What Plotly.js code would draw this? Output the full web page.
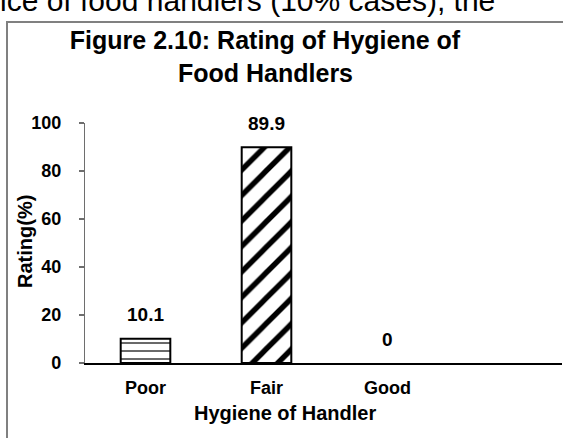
<!DOCTYPE html>
<html>
<head>
<meta charset="utf-8">
<script src="https://cdn.plot.ly/plotly-3.0.1.min.js"></script>
<style>
  html, body { margin: 0; padding: 0; background: #ffffff; }
  #chart { width: 563px; height: 438px; }
</style>
</head>
<body>
<div id="chart"></div>
<script>
// ---- data ----
const categories = ['Poor', 'Fair', 'Good'];
const ratingValues = [10.1, 89.9, 0];
const valueLabels = ['10.1', '89.9', '0'];
const yTickValues = [0, 20, 40, 60, 80, 100];
const yTickLabels = ['0', '20', '40', '60', '80', '100'];
const chartTitleLine1 = 'Figure 2.10: Rating of Hygiene of';
const chartTitleLine2 = 'Food Handlers';
const xAxisTitle = 'Hygiene of Handler';
const yAxisTitle = 'Rating(%)';
const pageTextAbove = 'ice of food handlers (10% cases), the';

// ---- geometry helpers (pixel -> paper) ----
const W = 563, H = 438;
const M = { l: 85, r: 1, t: 123, b: 75 };
const PW = W - M.l - M.r, PH = H - M.t - M.b;
const px = x => (x - M.l) / PW;
const py = y => (H - M.b - y) / PH;

const FONT = 'Liberation Sans, Arial, sans-serif';

const barPatterns = [
  { shape: '-', fgcolor: '#444444', bgcolor: '#ffffff', size: 8, solidity: 0.2 },
  { shape: '/', fgcolor: '#000000', bgcolor: '#ffffff', size: 18, solidity: 0.3 },
  { shape: '', fgcolor: '#000000', bgcolor: '#ffffff', size: 10, solidity: 0.3 }
];

const traces = categories.map((c, i) => ({
  type: 'bar',
  x: [c],
  y: [ratingValues[i]],
  width: 0.41,
  marker: {
    color: '#ffffff',
    line: { color: '#000000', width: ratingValues[i] > 0 ? 2 : 0 },
    pattern: barPatterns[i]
  },
  hoverinfo: 'x+y',
  showlegend: false
}));

const valueAnnotations = categories.map((c, i) => ({
  x: c, y: ratingValues[i], xref: 'x', yref: 'y',
  text: '<b>' + valueLabels[i] + '</b>',
  showarrow: false, yanchor: 'middle', yshift: 24,
  font: { family: FONT, size: 19, color: '#000000' }
}));

const layout = {
  width: W, height: H,
  margin: M,
  paper_bgcolor: '#ffffff',
  plot_bgcolor: 'rgba(0,0,0,0)',
  bargap: 0.59,
  title: {
    text: '<b>' + chartTitleLine1 + '</b>',
    x: 265 / W, xanchor: 'center', xref: 'container',
    y: 1 - 40 / H, yanchor: 'middle', yref: 'container',
    font: { family: FONT, size: 25, color: '#000000' }
  },
  xaxis: {
    type: 'category',
    categoryorder: 'array', categoryarray: categories,
    range: [-0.5, -0.5 + PW / 121],
    showline: true, linecolor: '#000000', linewidth: 1.5,
    ticks: '', showgrid: false, zeroline: false,
    ticklabelstandoff: 8,
    tickfont: { family: FONT, size: 18, color: '#000000', weight: 'bold' },
    fixedrange: true
  },
  yaxis: {
    range: [0, 100],
    tickvals: yTickValues, ticktext: yTickLabels,
    showline: true, linecolor: '#6e6e6e', linewidth: 1.2,
    ticks: 'outside', ticklen: 5, tickcolor: '#6e6e6e', tickwidth: 1.2,
    ticklabelstandoff: 14,
    showgrid: false, zeroline: false,
    tickfont: { family: FONT, size: 18, color: '#000000', weight: 'bold' },
    fixedrange: true
  },
  annotations: valueAnnotations.concat([
    {
      text: '<b>' + chartTitleLine2 + '</b>', showarrow: false,
      xref: 'paper', yref: 'paper', x: px(265), y: py(73),
      xanchor: 'center', yanchor: 'middle',
      font: { family: FONT, size: 25, color: '#000000' }
    },
    {
      text: '<b>' + xAxisTitle + '</b>', showarrow: false,
      xref: 'paper', yref: 'paper', x: px(285), y: py(413),
      xanchor: 'center', yanchor: 'middle',
      font: { family: FONT, size: 20, color: '#000000' }
    },
    {
      text: '<b>' + yAxisTitle + '</b>', showarrow: false, textangle: -90,
      xref: 'paper', yref: 'paper', x: px(25), y: py(242),
      xanchor: 'center', yanchor: 'middle',
      font: { family: FONT, size: 20, color: '#000000' }
    },
    {
      text: pageTextAbove, showarrow: false,
      xref: 'paper', yref: 'paper', x: px(-2), y: py(0),
      xanchor: 'left', yanchor: 'middle',
      font: { family: FONT, size: 30, color: '#000000' }
    }
  ]),
  shapes: [
    { type: 'line', xref: 'paper', yref: 'paper', x0: px(7), x1: px(7), y0: py(22), y1: py(440),
      line: { color: '#808080', width: 2 } },
    { type: 'line', xref: 'paper', yref: 'paper', x0: px(6), x1: px(565), y0: py(22), y1: py(22),
      line: { color: '#808080', width: 2 } }
  ]
};

Plotly.newPlot('chart', traces, layout, { displayModeBar: false, staticPlot: true });
</script>
</body>
</html>
